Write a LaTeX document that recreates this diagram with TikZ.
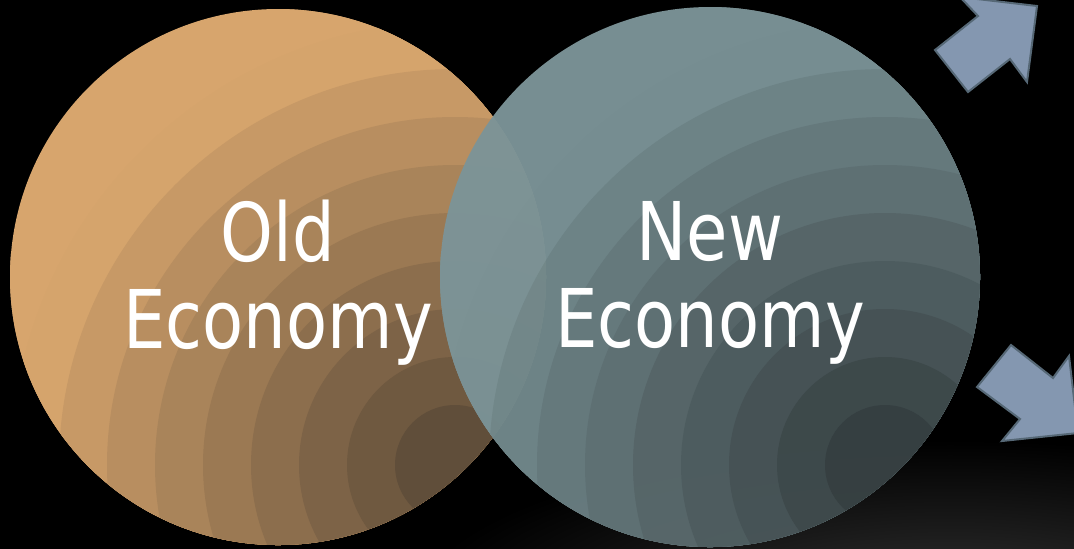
\documentclass[tikz,border=0pt]{standalone}
\usepackage{fontspec}
\newfontfamily\labelfont[FakeStretch=0.83]{DejaVu Sans}
\begin{document}
\begin{tikzpicture}[x=0.5pt,y=-0.5pt]
  \definecolor{oldlight}{RGB}{215,165,109}
  \definecolor{olddark}{RGB}{96,78,58}
  \definecolor{newlight}{RGB}{124,148,152}
  \definecolor{newdark}{RGB}{56,66,68}
  \definecolor{arrowfill}{RGB}{132,151,176}
  \definecolor{arrowedge}{RGB}{86,104,118}
  \tikzset{
    bubble/.style={circle, minimum size=268pt, inner sep=0pt},
    bubbletext/.style={text=white, inner sep=0pt, align=center,
      font=\labelfont\fontsize{40.5}{43.5}\selectfont},
    blockarrow/.style={fill=arrowfill, draw=arrowedge, line width=1pt, line join=miter}
  }
  % page frame first, then the canvas painted a little past its edge
  \useasboundingbox (0,0) rectangle (1074,548);
  \fill[black] (-6,-6) rectangle (1080,554);
  % soft floor glow
  \begin{scope}
    \clip (-6,-6) rectangle (1080,554);
    \shade[inner color=black!80!white, outer color=black]
      (950,610) ellipse[x radius=270pt, y radius=85pt];
  \end{scope}

  % circles
  \node[bubble] (old) at (278,277) {};
  \node[bubble] (new) at (710,277) {};

  % banded radial fill of the left circle
  \begin{scope}[shift={(old.center)}]
    \clip (0,0) circle[radius=134pt];
    \foreach \k in {0,...,10} {
      \pgfmathsetmacro\rr{540-48*\k}
      \pgfmathsetmacro\pct{100*min(1,max(0,(450-\rr)/390))}
      \fill[olddark!\pct!oldlight] (177,188) circle[radius=\rr*0.5pt];
    }
  \end{scope}

  % banded radial fill of the right circle, slightly see-through
  \begin{scope}[transparency group, opacity=0.96]
    \begin{scope}[shift={(new.center)}]
      \clip (0,0) circle[radius=135pt];
      \foreach \k in {0,...,10} {
        \pgfmathsetmacro\rr{540-48*\k}
        \pgfmathsetmacro\pct{100*min(1,max(0,(450-\rr)/390))}
        \fill[newdark!\pct!newlight] (175,188) circle[radius=\rr*0.5pt];
      }
    \end{scope}
  \end{scope}

  % labels
  \node[bubbletext] (oldtext) at (278,283) {Old\\Economy};
  \node[bubbletext] (newtext) at (710,283) {New\\Economy};

  % block arrows
  \coordinate (ua) at (1037,6);
  \coordinate (da) at (1078,433);
  \draw[blockarrow] (ua) -- (1027,82) -- (1010,59) -- (968,92) -- (935,50)
    -- (978,16) -- (960,-3) -- cycle;
  \draw[blockarrow] (da) -- (1002,441) -- (1020,419) -- (977,387) -- (1011,345)
    -- (1053,378) -- (1069,356) -- cycle;
\end{tikzpicture}
\end{document}
